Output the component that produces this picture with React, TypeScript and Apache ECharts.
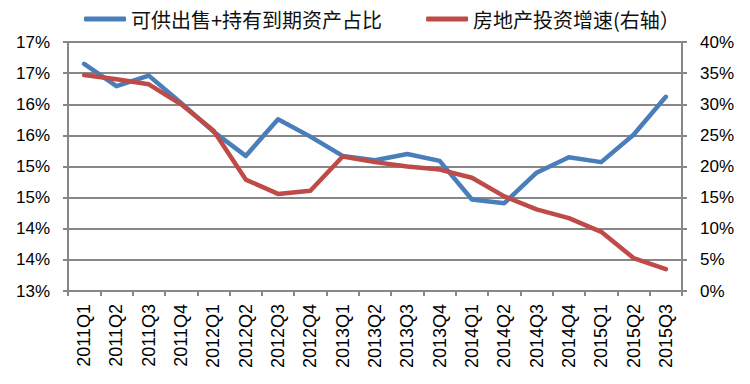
import React, { useEffect, useRef } from "react";
import * as echarts from "echarts";

const categories = [
  "2011Q1", "2011Q2", "2011Q3", "2011Q4",
  "2012Q1", "2012Q2", "2012Q3", "2012Q4",
  "2013Q1", "2013Q2", "2013Q3", "2013Q4",
  "2014Q1", "2014Q2", "2014Q3", "2014Q4",
  "2015Q1", "2015Q2", "2015Q3",
];

// 可供出售+持有到期资产占比 (left axis, %)
const afsHtmRatio = [
  16.65, 16.29, 16.46, 16.02,
  15.56, 15.17, 15.76, 15.48,
  15.17, 15.10, 15.20, 15.09,
  14.47, 14.41, 14.90, 15.15,
  15.07, 15.51, 16.12,
];

// 房地产投资增速 (right axis, %)
const realEstateGrowth = [
  34.7, 34.0, 33.2, 30.0,
  25.8, 17.9, 15.6, 16.1,
  21.6, 20.7, 20.0, 19.5,
  18.2, 15.2, 13.1, 11.7,
  9.5, 5.3, 3.5,
];

const seriesNames = ["可供出售+持有到期资产占比", "房地产投资增速(右轴）"];
const leftTickLabels = ["13%", "14%", "14%", "15%", "15%", "16%", "16%", "17%", "17%"];
const rightTickLabels = ["0%", "5%", "10%", "15%", "20%", "25%", "30%", "35%", "40%"];

const LATIN = "'Liberation Sans', Arial, sans-serif";
const CJK = "'Noto Sans CJK SC', 'Liberation Sans', sans-serif";
const GRID_GRAY = "#878787";

export default function App() {
  const ref = useRef<HTMLDivElement>(null);

  useEffect(() => {
    if (!ref.current) return;
    const chart = echarts.init(ref.current, undefined, { renderer: "svg" });
    chart.setOption({
      animation: false,
      backgroundColor: "#ffffff",
      legend: {
        top: 4,
        left: 79,
        icon: "roundRect",
        itemWidth: 42,
        itemHeight: 5,
        itemGap: 44,
        textStyle: { fontFamily: CJK, fontSize: 20, color: "#111" },
        data: seriesNames,
      },
      grid: { left: 68, right: 68, top: 42, bottom: 93, containLabel: false },
      xAxis: {
        type: "category",
        data: categories,
        boundaryGap: true,
        axisLine: { show: true, lineStyle: { color: GRID_GRAY, width: 2 } },
        axisTick: { show: true, length: 5, lineStyle: { color: GRID_GRAY, width: 2 } },
        axisLabel: {
          rotate: 90,
          margin: 13,
          fontFamily: LATIN,
          fontSize: 18,
          color: "#000",
        },
      },
      yAxis: [
        {
          type: "value",
          min: 13,
          max: 17,
          interval: 0.5,
          axisLine: { show: true, lineStyle: { color: GRID_GRAY, width: 2 } },
          axisTick: { show: true, length: 5, lineStyle: { color: GRID_GRAY, width: 2 } },
          splitLine: { show: true, lineStyle: { color: GRID_GRAY, width: 2 } },
          axisLabel: {
            margin: 18,
            fontFamily: LATIN,
            fontSize: 17,
            color: "#000",
            formatter: (v: number) => leftTickLabels[Math.round((v - 13) / 0.5)] ?? "",
          },
        },
        {
          type: "value",
          min: 0,
          max: 40,
          interval: 5,
          position: "right",
          axisLine: { show: true, lineStyle: { color: GRID_GRAY, width: 2 } },
          axisTick: { show: true, length: 5, lineStyle: { color: GRID_GRAY, width: 2 } },
          splitLine: { show: false },
          axisLabel: {
            margin: 18,
            fontFamily: LATIN,
            fontSize: 17,
            color: "#000",
            formatter: (v: number) => rightTickLabels[Math.round(v / 5)] ?? "",
          },
        },
      ],
      series: [
        {
          name: seriesNames[0],
          type: "line",
          yAxisIndex: 0,
          data: afsHtmRatio,
          symbol: "none",
          lineStyle: { color: "#4A7EBB", width: 4.5, cap: "round", join: "round" },
          itemStyle: { color: "#4A7EBB" },
          z: 3,
        },
        {
          name: seriesNames[1],
          type: "line",
          yAxisIndex: 1,
          data: realEstateGrowth,
          symbol: "none",
          lineStyle: { color: "#BE4B48", width: 4.5, cap: "round", join: "round" },
          itemStyle: { color: "#BE4B48" },
          z: 4,
        },
      ],
    });
    return () => chart.dispose();
  }, []);

  return <div ref={ref} style={{ width: 750, height: 384, position: "absolute", left: 0, top: 0 }} />;
}
